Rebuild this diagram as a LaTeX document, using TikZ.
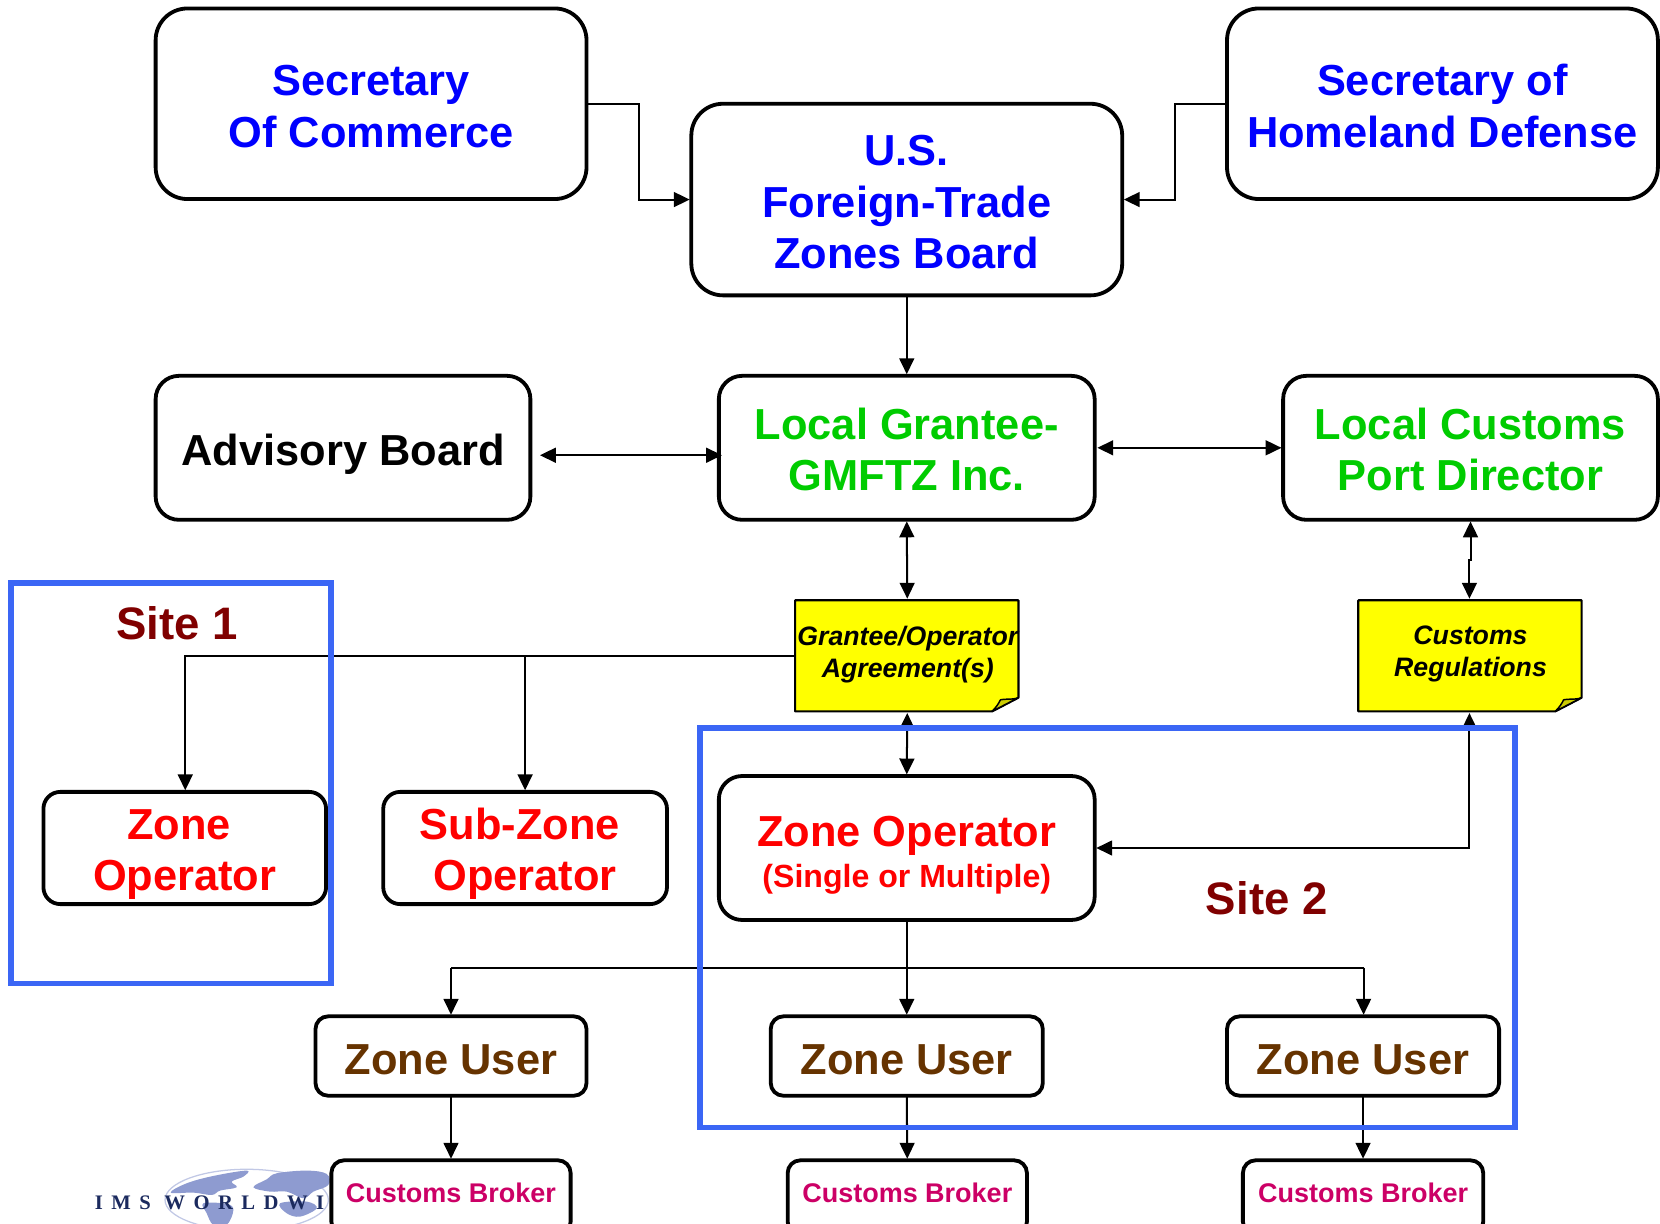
\documentclass[tikz,border=0pt]{standalone}
\usepackage{fontspec}
\setmainfont{Liberation Sans}
\newfontfamily\logofont[LetterSpace=41]{Liberation Serif}
\usetikzlibrary{arrows.meta}
\definecolor{cblue}{HTML}{0000FF}
\definecolor{cgreen}{HTML}{00CC00}
\definecolor{cred}{HTML}{FF0000}
\definecolor{cbrown}{HTML}{663300}
\definecolor{cmag}{HTML}{CC0066}
\definecolor{cdark}{HTML}{800000}
\definecolor{cframe}{HTML}{3B66F5}
\definecolor{cyel}{HTML}{FFFF00}
\definecolor{cfold}{HTML}{CCCC00}
\definecolor{cglobe}{HTML}{8E9BD0}
\definecolor{clogo}{HTML}{1B2A5E}
\newcommand{\lift}[1]{\rule{0pt}{#1pt}}
\tikzset{
  box/.style={draw=black,line width=3.6pt,fill=white,rounded corners=#1,inner sep=0pt,outer sep=0pt,align=center,font=\bfseries\fontsize{41}{48.5}\selectfont},
  box/.default=30pt,
  brokerbox/.style={box=12pt,minimum height=70pt,text=cmag,font=\bfseries\fontsize{25.5}{30}\selectfont},
  notenode/.style={inner sep=0pt,outer sep=0pt,align=center,minimum width=211pt,minimum height=105pt,font=\bfseries\itshape\fontsize{25.2}{30}\selectfont},
  site/.style={draw=cframe,line width=5.5pt},
  sitelabel/.style={text=cdark,font=\bfseries\fontsize{43}{48}\selectfont,inner sep=0pt},
  conn/.style={line width=1.9pt,shorten >=1.5pt,-{Triangle[length=15pt,width=14pt]}},
  both/.style={line width=1.9pt,shorten >=1.5pt,shorten <=1.5pt,{Triangle[length=15pt,width=14pt]}-{Triangle[length=15pt,width=14pt]}},
  plain/.style={line width=1.9pt},
  land/.style={fill=cglobe,draw=none},
}
\newcommand{\notepaper}[2]{%
  \begin{scope}[shift={(#1,#2)}]
    \draw[fill=cyel,line width=2pt,line join=bevel] (0,0) -- (211,0) -- (211,92) -- (186,105) -- (0,105) -- cycle;
    \draw[fill=cfold,line width=1.4pt,line join=round] (186,105) -- (210,92.5) .. controls (203,94) and (198,93) .. (194,94) .. controls (192,98) and (190,101) .. (186,105) -- cycle;
  \end{scope}}
\begin{document}
\begin{tikzpicture}[x=1pt,y=-1pt]
\useasboundingbox (0,0) rectangle (1568,1155.3);
\clip (0,0) rectangle (1568,1155.3);
% logo
\begin{scope}[shift={(75.6,1086.2)},x=0.3149pt,y=-0.3149pt]
  \draw[cglobe!55,line width=1.2pt] (500,150) ellipse [x radius=245, y radius=92];
  \fill[land] plot[smooth cycle,tension=0.6] coordinates {(272,128) (320,100) (400,78) (500,62) (490,80) (455,95) (470,112) (420,122) (395,135) (340,128)};
  \fill[land] plot[smooth cycle,tension=0.6] coordinates {(520,112) (560,88) (590,70) (680,62) (740,72) (745,105) (700,125) (670,145) (620,125) (570,125)};
  \fill[land] plot[smooth cycle,tension=0.6] coordinates {(370,160) (440,162) (460,180) (440,225) (400,225) (380,190)};
  \fill[land] plot[smooth cycle,tension=0.6] coordinates {(600,160) (680,155) (710,175) (660,200) (620,190)};
\end{scope}
\node[inner sep=0pt,anchor=base west,text=clogo,font=\logofont\bfseries\fontsize{19.5}{19.5}\selectfont] (logo) at (89.5,1142) {IMS WORLDWI};
% nodes
\node[box,minimum width=407pt,minimum height=180pt,text=cblue] (com) at (350.5,98) {\lift{34}Secretary\\Of Commerce};
\node[box,minimum width=407pt,minimum height=181pt,text=cblue] (ftz) at (856.5,188.5) {\lift{34}U.S.\\Foreign-Trade\\Zones Board};
\node[box,minimum width=407pt,minimum height=180pt,text=cblue] (hom) at (1362.5,98) {\lift{34}Secretary of\\Homeland Defense};
\node[box=22pt,minimum width=354pt,minimum height=136pt] (adv) at (324,423) {\lift{41}Advisory Board};
\node[box=22pt,minimum width=355pt,minimum height=136pt,text=cgreen] (lg) at (856.5,423) {\lift{33}Local Grantee-\\GMFTZ Inc.};
\node[box=22pt,minimum width=354pt,minimum height=136pt,text=cgreen] (lc) at (1389,423) {\lift{33}Local Customs\\Port Director};
\node[box=16pt,minimum width=267pt,minimum height=106pt,text=cred] (zo1) at (174.5,801) {\lift{40}Zone\hspace*{11pt}\\Operator};
\node[box=16pt,minimum width=268pt,minimum height=106pt,text=cred] (szo) at (496,801) {\lift{40}Sub-Zone\hspace*{10pt}\\Operator};
\node[box=22pt,minimum width=355pt,minimum height=136pt,text=cred] (zo2) at (856.5,801) {\lift{43}Zone Operator\\[-10pt]{\fontsize{30.3}{34}\selectfont(Single or Multiple)}};
\node[box=12pt,minimum width=256pt,minimum height=75pt,text=cbrown] (zu1) at (426,997.5) {\lift{35}Zone User};
\node[box=12pt,minimum width=257pt,minimum height=75pt,text=cbrown] (zu2) at (856.5,997.5) {\lift{35}Zone User};
\node[box=12pt,minimum width=257pt,minimum height=75pt,text=cbrown] (zu3) at (1287.5,997.5) {\lift{35}Zone User};
\node[brokerbox,minimum width=226pt] (cb1) at (426,1131) {\rule[-8pt]{0pt}{8pt}Customs Broker};
\node[brokerbox,minimum width=226pt] (cb2) at (857,1131) {\rule[-8pt]{0pt}{8pt}Customs Broker};
\node[brokerbox,minimum width=227pt] (cb3) at (1287.5,1131) {\rule[-8pt]{0pt}{8pt}Customs Broker};
% notes
\notepaper{751}{567}
\notepaper{1283}{567}
\node[notenode] (n1) at (857.5,618) {Grantee/Operator\\Agreement(s)};
\node[notenode] (n2) at (1389,618) {Customs\\Regulations};
% junctions
\coordinate (comturn) at (604,98);
\coordinate (comin) at (604,188.5);
\coordinate (homturn) at (1110,98);
\coordinate (homin) at (1110,188.5);
\coordinate (j1) at (175,620);
\coordinate (j2) at (496,620);
\coordinate (ja) at (426,914);
\coordinate (jb) at (857,914);
\coordinate (jc) at (1288,914);
\coordinate (k1) at (1388,801);
\coordinate (noteL) at (751,620);
\coordinate (g1) at (857,567);
\coordinate (g2) at (857,672);
\coordinate (h1) at (1388,567);
\coordinate (h2) at (1388,672);
% connectors
\draw[conn] (com.east) -- (comturn) -- (comin) -- (comin -| ftz.west);
\draw[conn] (hom.west) -- (homturn) -- (homin) -- (homin -| ftz.east);
\draw[conn] (ftz.south) -- (lg.north);
\draw[both,shorten <=0pt,shorten >=-3pt] ([xshift=9pt,yshift=-7pt]adv.east) -- ([yshift=-7pt]lg.west);
\draw[both] ([xshift=1pt]lg.east) -- (lc.west);
\draw[both] (lg.south) -- (g1);
\draw[both] (lc.south) -- (1389,529) -- (1388,529) -- (h1);
\draw[both] (g2) -- (zo2.north);
\draw[both] (h2) -- (k1) -- (zo2.east);
\draw[conn] (noteL) -- (j1) -- (j1 |- zo1.north);
\draw[conn] (j2) -- (j2 |- szo.north);
\draw[conn] (zo2.south) -- (zu2.north);
\draw[plain] (ja) -- (jc);
\draw[conn] (ja) -- (ja |- zu1.north);
\draw[conn] (jc) -- (jc |- zu3.north);
\draw[conn] (zu1.south) -- (cb1.north);
\draw[conn] (zu2.south) -- (cb2.north);
\draw[conn] (zu3.south) -- (cb3.north);
% sites
\draw[site] (10.5,551) rectangle (313,929);
\draw[site] (661,688) rectangle (1431,1065);
\node[sitelabel] (s1) at (167.5,589) {Site 1};
\node[sitelabel] (s2) at (1196.5,848.5) {Site 2};
\end{tikzpicture}
\end{document}
